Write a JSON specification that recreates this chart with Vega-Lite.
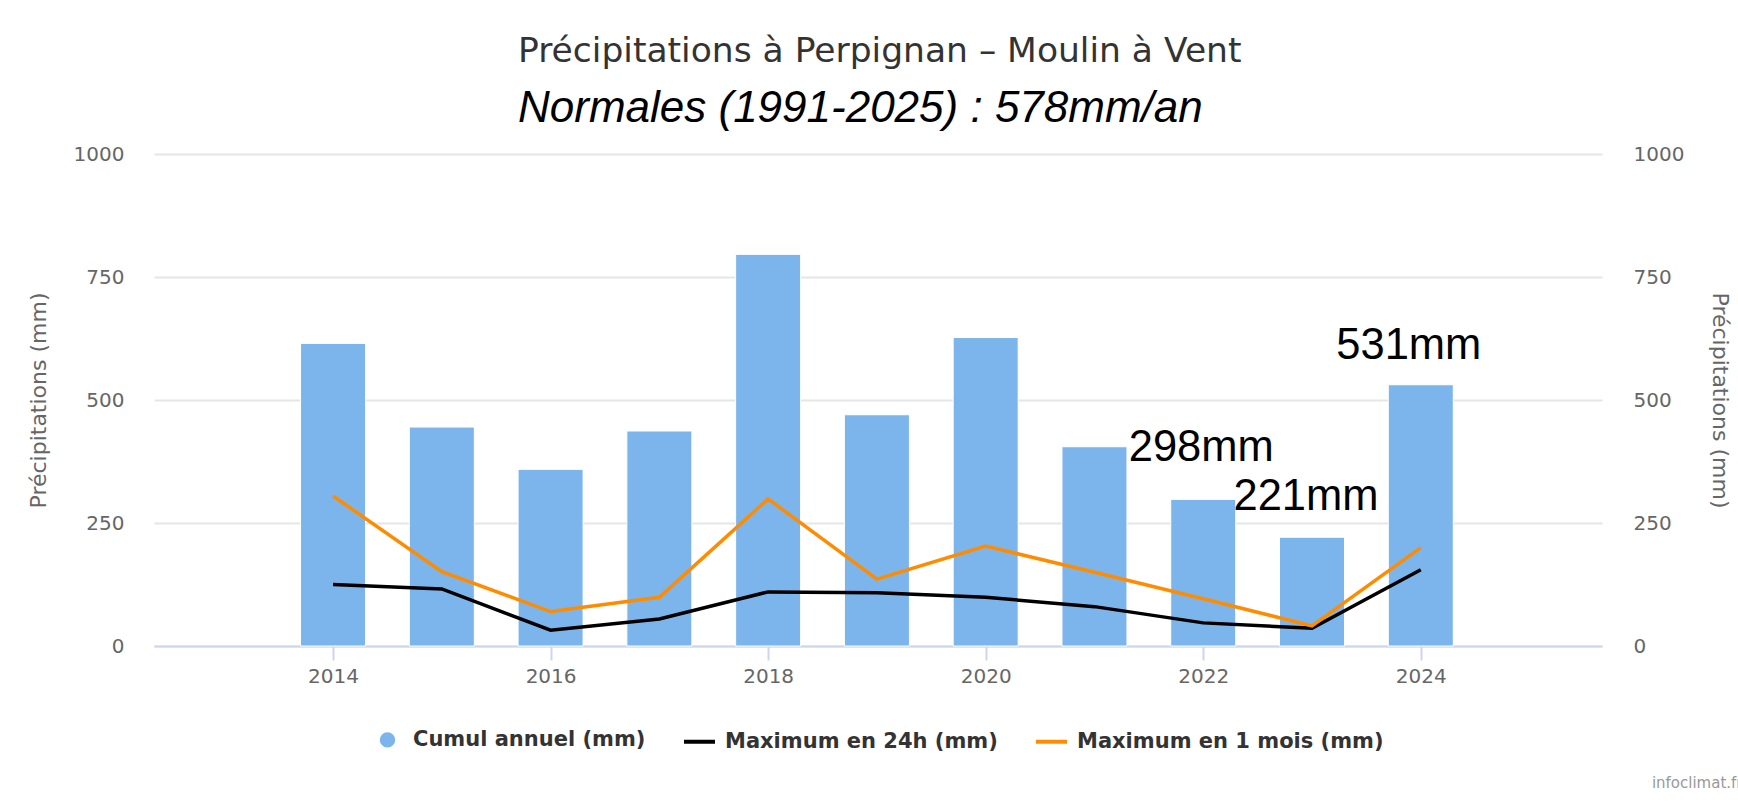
{
  "$schema": "https://vega.github.io/schema/vega-lite/v6.json",
  "width": 1448,
  "height": 492,
  "autosize": {"type": "none"},
  "padding": {"left": 154, "top": 154, "right": 136, "bottom": 157},
  "background": "#ffffff",
  "config": {
    "view": {"stroke": null},
    "legend": {
      "title": null,
      "orient": "none",
      "legendX": 216,
      "legendY": 568,
      "direction": "horizontal",
      "labelFont": "DejaVu Sans",
      "labelFontSize": 21,
      "labelFontWeight": "bold",
      "labelColor": "#333333",
      "labelLimit": 0,
      "labelOffset": 8,
      "columnPadding": 30,
      "symbolSize": 961,
      "symbolStrokeWidth": 4
    }
  },
  "title": {
    "text": "Précipitations à Perpignan – Moulin à Vent",
    "subtitle": "Normales (1991-2025) : 578mm/an",
    "anchor": "start",
    "frame": "group",
    "dx": 364,
    "offset": 12,
    "font": "DejaVu Sans",
    "fontSize": 34.5,
    "fontWeight": "normal",
    "color": "#333333",
    "subtitleFont": "Liberation Sans",
    "subtitleFontSize": 44,
    "subtitleFontStyle": "italic",
    "subtitleColor": "#000000",
    "subtitlePadding": 18
  },
  "data": {
    "values": [
      {"year": 2014, "cumul": 615, "max24": 125, "max1m": 305, "label": null},
      {"year": 2015, "cumul": 445, "max24": 116, "max1m": 151, "label": null},
      {"year": 2016, "cumul": 359, "max24": 32, "max1m": 70, "label": null},
      {"year": 2017, "cumul": 437, "max24": 55, "max1m": 99, "label": null},
      {"year": 2018, "cumul": 796, "max24": 110, "max1m": 299, "label": null},
      {"year": 2019, "cumul": 470, "max24": 108, "max1m": 136, "label": null},
      {"year": 2020, "cumul": 627, "max24": 99, "max1m": 203, "label": null},
      {"year": 2021, "cumul": 405, "max24": 80, "max1m": 150, "label": null},
      {"year": 2022, "cumul": 298, "max24": 47, "max1m": 96, "label": "298mm"},
      {"year": 2023, "cumul": 221, "max24": 36, "max1m": 41, "label": "221mm"},
      {"year": 2024, "cumul": 531, "max24": 155, "max1m": 200, "label": "531mm"}
    ]
  },
  "encoding": {
    "x": {
      "field": "year",
      "type": "quantitative",
      "scale": {"domain": [2012.4, 2025.62], "nice": false, "zero": false},
      "axis": {
        "values": [2014, 2016, 2018, 2020, 2022, 2024],
        "format": "d",
        "grid": false,
        "domainColor": "#ccd6eb",
        "domainWidth": 2,
        "tickColor": "#ccd6eb",
        "tickWidth": 2,
        "tickSize": 14,
        "labelPadding": 6,
        "labelFont": "DejaVu Sans",
        "labelFontSize": 20,
        "labelColor": "#666666",
        "title": "infoclimat.fr",
        "titleFont": "DejaVu Sans",
        "titleFontSize": 15,
        "titleFontWeight": "normal",
        "titleColor": "#999999",
        "titleAnchor": "end",
        "titleAlign": "right",
        "titleBaseline": "alphabetic",
        "titleX": 1588,
        "titleY": 141
      }
    }
  },
  "layer": [
    {
      "layer": [
        {
          "mark": {"type": "bar", "width": 65, "stroke": "#ffffff", "strokeWidth": 1},
          "encoding": {
            "y": {
              "field": "cumul",
              "type": "quantitative",
              "scale": {"domain": [0, 1000], "nice": false},
              "axis": {
                "orient": "left",
                "values": [0, 250, 500, 750, 1000],
                "format": "d",
                "grid": true,
                "gridColor": "#e6e6e6",
                "gridWidth": 2,
                "domain": false,
                "ticks": false,
                "labelPadding": 30,
                "labelFont": "DejaVu Sans",
                "labelFontSize": 20,
                "labelColor": "#666666",
                "title": "Précipitations (mm)",
                "titleFont": "DejaVu Sans",
                "titleFontSize": 22,
                "titleFontWeight": "normal",
                "titleColor": "#666666",
                "titlePadding": 23
              }
            },
            "color": {
              "datum": "Cumul annuel (mm)",
              "type": "nominal",
              "scale": {
                "domain": ["Cumul annuel (mm)", "Maximum en 24h (mm)", "Maximum en 1 mois (mm)"],
                "range": ["#7cb5ec", "#000000", "#ff8c00"]
              },
              "legend": {
                "symbolType": "stroke",
                "encode": {
                  "symbols": {
                    "update": {
                      "shape": {"signal": "datum.index === 0 ? 'circle' : 'stroke'"},
                      "size": {"signal": "datum.index === 0 ? 130 : 961"},
                      "fill": {"scale": "color", "field": "value"},
                      "stroke": {"scale": "color", "field": "value"},
                      "strokeWidth": {"value": 4},
                      "opacity": {"value": 1}
                    }
                  }
                }
              }
            }
          }
        },
        {
          "transform": [{"filter": "datum.year == 2022"}],
          "mark": {"type": "text", "font": "Liberation Sans", "fontSize": 43.5, "color": "#000000", "align": "center", "baseline": "alphabetic", "dx": -2, "dy": -38},
          "encoding": {
            "y": {"field": "cumul", "type": "quantitative"},
            "text": {"field": "label"}
          }
        },
        {
          "transform": [{"filter": "datum.year == 2023"}],
          "mark": {"type": "text", "font": "Liberation Sans", "fontSize": 43.5, "color": "#000000", "align": "center", "baseline": "alphabetic", "dx": -6, "dy": -27},
          "encoding": {
            "y": {"field": "cumul", "type": "quantitative"},
            "text": {"field": "label"}
          }
        },
        {
          "transform": [{"filter": "datum.year == 2024"}],
          "mark": {"type": "text", "font": "Liberation Sans", "fontSize": 43.5, "color": "#000000", "align": "center", "baseline": "alphabetic", "dx": -12, "dy": -26},
          "encoding": {
            "y": {"field": "cumul", "type": "quantitative"},
            "text": {"field": "label"}
          }
        }
      ]
    },
    {
      "layer": [
        {
          "mark": {"type": "line", "strokeWidth": 3.5},
          "encoding": {
            "y": {
              "field": "max24",
              "type": "quantitative",
              "scale": {"domain": [0, 1000], "nice": false},
              "axis": {
                "orient": "right",
                "values": [0, 250, 500, 750, 1000],
                "format": "d",
                "grid": false,
                "domain": false,
                "ticks": false,
                "labelPadding": 31,
                "labelFont": "DejaVu Sans",
                "labelFontSize": 20,
                "labelColor": "#666666",
                "title": "Précipitations (mm)",
                "titleFont": "DejaVu Sans",
                "titleFontSize": 22,
                "titleFontWeight": "normal",
                "titleColor": "#666666",
                "titlePadding": 24
              }
            },
            "color": {
              "datum": "Maximum en 24h (mm)",
              "type": "nominal",
              "legend": {
                "symbolType": "stroke",
                "encode": {
                  "symbols": {
                    "update": {
                      "shape": {"signal": "datum.index === 0 ? 'circle' : 'stroke'"},
                      "size": {"signal": "datum.index === 0 ? 130 : 961"},
                      "fill": {"scale": "color", "field": "value"},
                      "stroke": {"scale": "color", "field": "value"},
                      "strokeWidth": {"value": 4},
                      "opacity": {"value": 1}
                    }
                  }
                }
              }
            }
          }
        },
        {
          "mark": {"type": "line", "strokeWidth": 3.5},
          "encoding": {
            "y": {"field": "max1m", "type": "quantitative"},
            "color": {
              "datum": "Maximum en 1 mois (mm)",
              "type": "nominal",
              "legend": {
                "symbolType": "stroke",
                "encode": {
                  "symbols": {
                    "update": {
                      "shape": {"signal": "datum.index === 0 ? 'circle' : 'stroke'"},
                      "size": {"signal": "datum.index === 0 ? 130 : 961"},
                      "fill": {"scale": "color", "field": "value"},
                      "stroke": {"scale": "color", "field": "value"},
                      "strokeWidth": {"value": 4},
                      "opacity": {"value": 1}
                    }
                  }
                }
              }
            }
          }
        }
      ]
    }
  ],
  "resolve": {"scale": {"y": "independent"}, "axis": {"y": "independent"}}
}
